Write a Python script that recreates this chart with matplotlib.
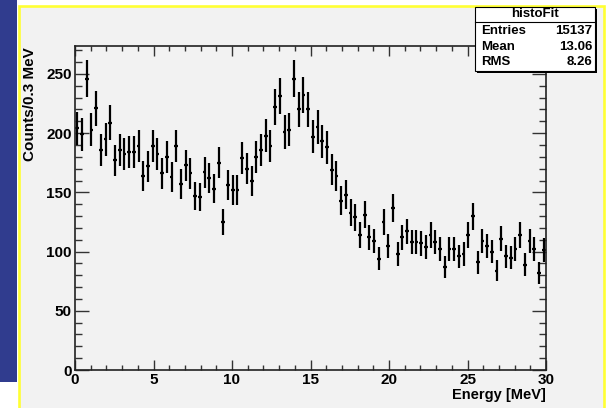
import numpy as np
import matplotlib.pyplot as plt
from matplotlib.patches import Rectangle
from matplotlib.ticker import MultipleLocator

plt.rcParams["font.family"] = ["Liberation Sans", "DejaVu Sans"]
plt.rcParams["font.weight"] = "bold"

# ── Data: histogram of 100 bins, 0.3 MeV wide ─────────────────────────────────
bin_edges = np.linspace(0.0, 30.0, 101)
counts = [
    204, 199, 246, 203, 221, 186, 195, 209, 177, 186,
    182, 184, 184, 189, 164, 172, 189, 182, 166, 180,
    163, 189, 157, 173, 166, 147, 146, 167, 162, 153,
    175, 125, 156, 152, 152, 179, 170, 160, 180, 186,
    198, 189, 222, 231, 201, 203, 246, 220, 232, 220,
    197, 205, 193, 188, 169, 164, 143, 148, 133, 129,
    114, 131, 112, 109, 94, 125, 105, 137, 98, 112,
    117, 108, 108, 107, 104, 114, 108, 102, 87, 102,
    102, 96, 98, 114, 130, 91, 109, 105, 100, 84,
    111, 96, 95, 102, 114, 89, 109, 102, 82, 101,
]
stats_title = "histoFit"
stats_rows = [("Entries", "15137"), ("Mean", "13.06"), ("RMS", "8.26")]

W, H = 606, 408
BG = "#f2f2f2"


def fx(x):
    return x / W


def fy(y):
    return 1 - y / H


fig = plt.figure(figsize=(W / 100, H / 100), dpi=100, facecolor="white")

# slide decoration: blue band at left, yellow framed canvas (behind the axes)
fig.patches.append(Rectangle((0, fy(382)), fx(17), 1 - fy(382), transform=fig.transFigure,
                             facecolor="#303c8e", edgecolor="none", zorder=-2))
fig.patches.append(Rectangle((fx(18.5), fy(430)), fx(604 - 18.5), fy(6) - fy(430),
                             transform=fig.transFigure, facecolor=BG,
                             edgecolor="#ffff33", linewidth=1.9, zorder=-1))

# ── Histogram axes ────────────────────────────────────────────────────────────
ax = fig.add_axes([fx(75), fy(370), fx(546 - 75), fy(46) - fy(370)])
ax.set_facecolor(BG)

centers = 0.5 * (bin_edges[:-1] + bin_edges[1:])
half_width = 0.5 * (bin_edges[1] - bin_edges[0])
y = np.array(counts, dtype=float)
ax.errorbar(centers, y, yerr=np.sqrt(y), xerr=half_width * 0.8, fmt="none",
            ecolor="black", elinewidth=1.6, capsize=0)

ax.set_xlim(0, 30)
ax.set_ylim(0, 273.6)
ax.xaxis.set_major_locator(MultipleLocator(5))
ax.xaxis.set_minor_locator(MultipleLocator(1))
ax.yaxis.set_major_locator(MultipleLocator(50))
ax.yaxis.set_minor_locator(MultipleLocator(10))
ax.tick_params(axis="x", which="both", direction="in", top=True, bottom=True,
               labelsize=11, pad=2.5, width=1, color="#333333")
ax.tick_params(axis="y", which="both", direction="in", left=True, right=True,
               labelsize=11, pad=2.5, width=1, color="#333333")
ax.tick_params(axis="x", which="major", length=7)
ax.tick_params(axis="x", which="minor", length=3.5)
ax.tick_params(axis="y", which="major", length=10)
ax.tick_params(axis="y", which="minor", length=5)
for lab in ax.get_xticklabels() + ax.get_yticklabels():
    lab.set_fontweight("bold")
for sp in ax.spines.values():
    sp.set_linewidth(1.2)
    sp.set_color("#222222")

fig.text(fx(30), fy(47), "Counts/0.3 MeV", rotation=90, ha="center", va="top",
         fontsize=11, fontweight="bold")
fig.text(fx(546), fy(395), "Energy [MeV]", ha="right", va="center",
         fontsize=10.5, fontweight="bold")

# ── Stats box ─────────────────────────────────────────────────────────────────
bx0, bx1, by0, by1 = 475, 595, 7, 71
fig.patches.append(Rectangle((fx(bx0 + 2), fy(by1 + 2)), fx(bx1 - bx0), fy(by0) - fy(by1),
                             transform=fig.transFigure, facecolor="black",
                             edgecolor="none", zorder=5))
fig.patches.append(Rectangle((fx(bx0), fy(by1)), fx(bx1 - bx0), fy(by0) - fy(by1),
                             transform=fig.transFigure, facecolor="white",
                             edgecolor="black", linewidth=0.8, zorder=6))
fig.add_artist(plt.Line2D([fx(bx0), fx(bx1)], [fy(22), fy(22)], transform=fig.transFigure,
                          color="black", linewidth=0.8, zorder=7))
fig.text(fx((bx0 + bx1) / 2), fy(14), stats_title, ha="center", va="center",
         fontsize=9.5, fontweight="bold", zorder=8)
for i, (name, val) in enumerate(stats_rows):
    yy = fy(31 + 15.5 * i)
    fig.text(fx(481), yy, name, ha="left", va="center", fontsize=9.5,
             fontweight="bold", zorder=8)
    fig.text(fx(592), yy, val, ha="right", va="center", fontsize=9.5,
             fontweight="bold", zorder=8)

fig.savefig("out.png", dpi=100, facecolor=fig.get_facecolor())
